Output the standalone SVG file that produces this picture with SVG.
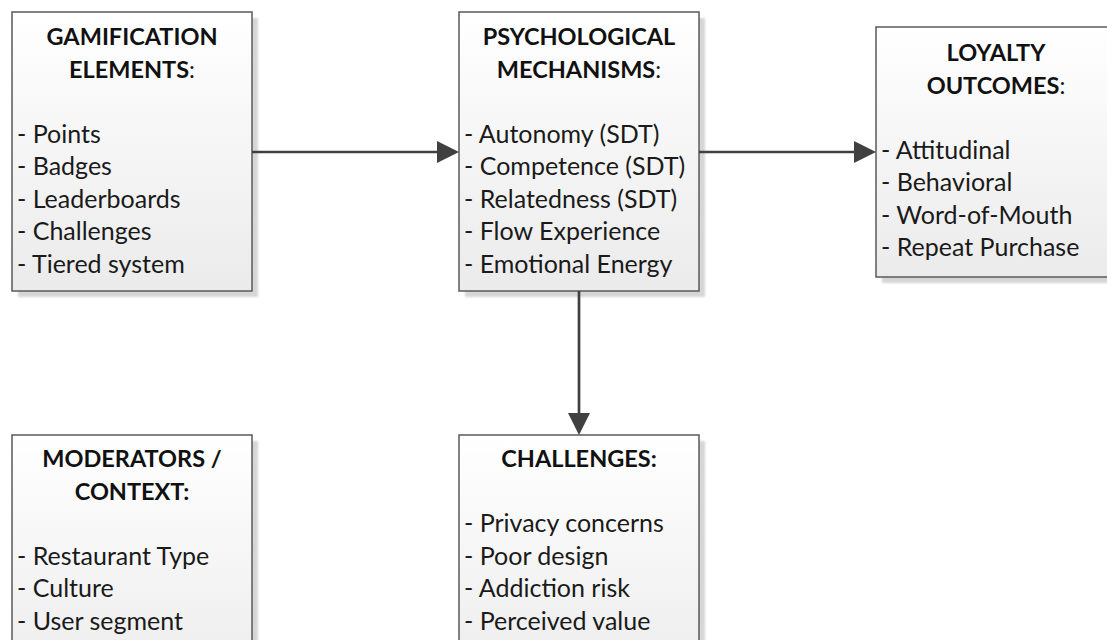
<svg xmlns="http://www.w3.org/2000/svg" width="1107" height="640" viewBox="0 0 1107 640">
  <defs>
    <linearGradient id="boxFill" x1="0" y1="0" x2="0" y2="1">
      <stop offset="0" stop-color="#ffffff"/>
      <stop offset="1" stop-color="#ebebeb"/>
    </linearGradient>
    <filter id="soft" x="-10%" y="-10%" width="120%" height="120%">
      <feGaussianBlur stdDeviation="1.2"/>
    </filter>
    <marker id="arrow" markerUnits="userSpaceOnUse" markerWidth="24" markerHeight="24" refX="10" refY="11" orient="auto">
      <path d="M0,0 L22,11 L0,22 z" fill="#404040"/>
    </marker>
  </defs>
  <style>
    .shadow { fill: #d6d6d6; filter: url(#soft); }
    .box { fill: url(#boxFill); stroke: #5a5a5a; stroke-width: 1.5; }
    .title { font-family: Lato, "Liberation Sans", sans-serif; font-weight: bold; font-size: 23.5px; fill: #111; text-anchor: middle; }
    .colon { font-weight: normal; }
    .item { font-family: Lato, "Liberation Sans", sans-serif; font-size: 25px; fill: #1a1a1a; }
    .conn { stroke: #404040; stroke-width: 2.7; fill: none; }
  </style>
  <rect width="1107" height="640" fill="#ffffff"/>

  <g id="gamification">
    <rect class="shadow" x="18" y="18" width="240" height="279"/>
    <rect class="box" x="12" y="12" width="240" height="279"/>
    <text class="title" x="132" y="45">GAMIFICATION</text>
    <text class="title" x="132" y="77.5">ELEMENTS<tspan class="colon">:</tspan></text>
    <text class="item" x="17" y="142.5">- Points</text>
    <text class="item" x="17" y="175">- Badges</text>
    <text class="item" x="17" y="207.5">- Leaderboards</text>
    <text class="item" x="17" y="240">- Challenges</text>
    <text class="item" x="17" y="272.5">- Tiered system</text>
  </g>

  <g id="psychological">
    <rect class="shadow" x="465" y="18" width="240" height="279"/>
    <rect class="box" x="459" y="12" width="240" height="279"/>
    <text class="title" x="579" y="45">PSYCHOLOGICAL</text>
    <text class="title" x="579" y="77.5">MECHANISMS<tspan class="colon">:</tspan></text>
    <text class="item" x="464" y="142.5">- Autonomy (SDT)</text>
    <text class="item" x="464" y="175">- Competence (SDT)</text>
    <text class="item" x="464" y="207.5">- Relatedness (SDT)</text>
    <text class="item" x="464" y="240">- Flow Experience</text>
    <text class="item" x="464" y="272.5">- Emotional Energy</text>
  </g>

  <g id="loyalty">
    <rect class="shadow" x="882" y="33" width="240" height="250"/>
    <rect class="box" x="876" y="27" width="240" height="250"/>
    <text class="title" x="996" y="61">LOYALTY</text>
    <text class="title" x="996" y="93.5">OUTCOMES<tspan class="colon">:</tspan></text>
    <text class="item" x="881" y="158.5">- Attitudinal</text>
    <text class="item" x="881" y="191">- Behavioral</text>
    <text class="item" x="881" y="223.5">- Word-of-Mouth</text>
    <text class="item" x="881" y="256">- Repeat Purchase</text>
  </g>

  <g id="moderators">
    <rect class="shadow" x="18" y="441" width="240" height="260"/>
    <rect class="box" x="12" y="435" width="240" height="260"/>
    <text class="title" x="132" y="467">MODERATORS /</text>
    <text class="title" x="132" y="499.5">CONTEXT:</text>
    <text class="item" x="17" y="564.5">- Restaurant Type</text>
    <text class="item" x="17" y="597">- Culture</text>
    <text class="item" x="17" y="629.5">- User segment</text>
  </g>

  <g id="challenges">
    <rect class="shadow" x="465" y="441" width="240" height="260"/>
    <rect class="box" x="459" y="435" width="240" height="260"/>
    <text class="title" x="579" y="467">CHALLENGES:</text>
    <text class="item" x="464" y="532">- Privacy concerns</text>
    <text class="item" x="464" y="564.5">- Poor design</text>
    <text class="item" x="464" y="597">- Addiction risk</text>
    <text class="item" x="464" y="629.5">- Perceived value</text>
  </g>

  <g id="connectors">
    <line class="conn" x1="252" y1="152" x2="447" y2="152" marker-end="url(#arrow)"/>
    <line class="conn" x1="699" y1="152" x2="864" y2="152" marker-end="url(#arrow)"/>
    <line class="conn" x1="579" y1="291" x2="579" y2="423" marker-end="url(#arrow)"/>
  </g>
</svg>
